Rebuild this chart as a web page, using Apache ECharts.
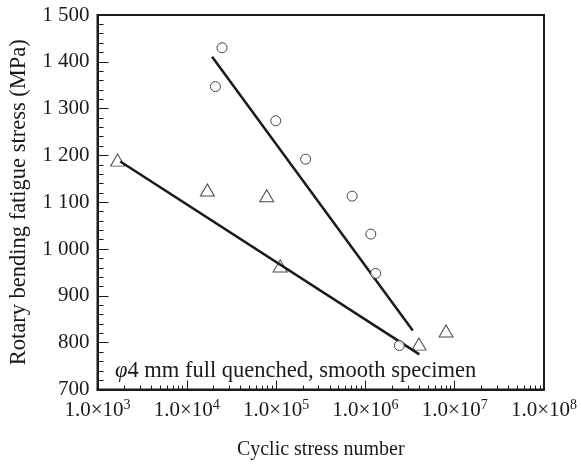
<!DOCTYPE html>
<html>
<head>
<meta charset="utf-8">
<script src="https://cdn.jsdelivr.net/npm/echarts@6/dist/echarts.min.js"></script>
<style>
html,body{margin:0;padding:0;background:#fff;}
#chart{width:581px;height:464px;}
</style>
</head>
<body>
<div id="chart"></div>
<script>
// ---- data ----
var circlePoints = [
  [2.48e4, 1430], [2.09e4, 1347], [9.9e4, 1274], [2.14e5, 1192],
  [7.1e5, 1113], [1.15e6, 1032], [1.30e6, 948], [2.40e6, 794]
];
var trianglePoints = [
  [1.68e3, 1190], [1.70e4, 1126], [7.85e4, 1114], [1.11e5, 964],
  [3.98e6, 797], [8.0e6, 825]
];
var circleFit = [[1.92e4, 1411], [3.39e6, 826]];
var triangleFit = [[1.8e3, 1187], [4.02e6, 775]];
var xExponents = [3, 4, 5, 6, 7, 8];
var yTicks = [700, 800, 900, 1000, 1100, 1200, 1300, 1400, 1500];
var annotation = '4 mm full quenched, smooth specimen';

var FONT = 'Liberation Serif';
var INK = '#1a1a1a';

// minor tick positions on log axis (2..9 per decade)
var minorX = [];
for (var e = 3; e < 8; e++) {
  for (var k = 2; k <= 9; k++) minorX.push(k * Math.pow(10, e));
}

var chart = echarts.init(document.getElementById('chart'), null, {renderer: 'canvas'});
var option = {
  backgroundColor: '#fff',
  animation: false,
  grid: {left: 97.5, right: 37, top: 15, bottom: 74.5, outerBoundsMode: 'none', containLabel: false,
         show: true, borderColor: INK, borderWidth: 2, backgroundColor: 'transparent'},
  xAxis: [{
    type: 'log', logBase: 10, min: 1e3, max: 1e8, interval: 1,
    position: 'bottom',
    name: 'Cyclic stress number', nameLocation: 'middle', nameGap: 50,
    nameTextStyle: {fontFamily: FONT, fontSize: 20, color: INK},
    axisLine: {show: true, lineStyle: {color: INK, width: 2}},
    axisTick: {show: true, inside: true, length: 9, lineStyle: {color: INK, width: 1}},
    splitLine: {show: false},
    axisLabel: {
      margin: 9, showMinLabel: true, showMaxLabel: true, hideOverlap: false,
      formatter: function (v) {
        var ex = Math.round(Math.log10(v));
        return '{b|1.0×10}{s|' + ex + '}';
      },
      rich: {
        b: {fontFamily: FONT, fontSize: 21, color: INK},
        s: {fontFamily: FONT, fontSize: 14, color: INK, padding: [0, 0, 9, 0]}
      }
    }
  }, {
    type: 'log', logBase: 10, min: 1e3, max: 1e8,
    position: 'bottom', gridIndex: 0,
    axisLine: {show: false},
    axisLabel: {show: false},
    splitLine: {show: false},
    axisTick: {show: true, inside: true, length: 4, customValues: minorX, lineStyle: {color: INK, width: 1}}
  }],
  yAxis: {
    type: 'value', min: 700, max: 1500, interval: 100,
    name: 'Rotary bending fatigue stress (MPa)', nameLocation: 'middle', nameGap: 67, nameRotate: 90,
    nameTextStyle: {fontFamily: FONT, fontSize: 22.5, color: INK},
    axisLine: {show: true, lineStyle: {color: INK, width: 2}},
    axisTick: {show: true, inside: true, length: 11, lineStyle: {color: INK, width: 1}},
    minorTick: {show: true, splitNumber: 5, length: 6, lineStyle: {color: INK, width: 1}},
    splitLine: {show: false},
    axisLabel: {
      margin: 8, fontFamily: FONT, fontSize: 21, color: INK,
      formatter: function (v) {
        var s = String(v);
        return s.length > 3 ? s.slice(0, s.length - 3) + ' ' + s.slice(-3) : s;
      }
    }
  },
  title: {
    left: 110, top: 355,
    text: '{i|φ}{t|' + annotation + '}',
    textStyle: {
      fontWeight: 'normal',
      rich: {
        i: {fontFamily: FONT, fontStyle: 'italic', fontWeight: 'normal', fontSize: 22.5, color: INK},
        t: {fontFamily: FONT, fontWeight: 'normal', fontSize: 22.5, color: INK}
      }
    }
  },
  series: [{
    type: 'line', data: circleFit, xAxisIndex: 0, symbol: 'none',
    lineStyle: {color: INK, width: 2.5}, z: 2
  }, {
    type: 'line', data: triangleFit, xAxisIndex: 0, symbol: 'none',
    lineStyle: {color: INK, width: 2.5}, z: 2
  }, {
    type: 'scatter', data: circlePoints, xAxisIndex: 0, symbol: 'circle', symbolSize: 10,
    itemStyle: {color: '#fff', borderColor: INK, borderWidth: 1}, z: 3
  }, {
    type: 'scatter', data: trianglePoints, xAxisIndex: 0, symbol: 'triangle', symbolSize: [14, 12],
    itemStyle: {color: 'rgba(255,255,255,0)', borderColor: INK, borderWidth: 1}, z: 3
  }]
};
chart.setOption(option);
</script>
</body>
</html>
